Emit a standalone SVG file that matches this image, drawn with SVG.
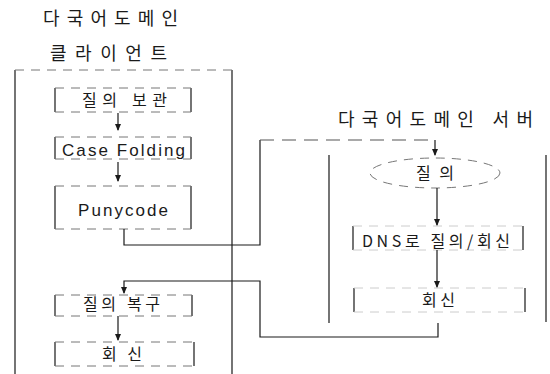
<svg xmlns="http://www.w3.org/2000/svg" width="550" height="374" viewBox="0 0 550 374">
<style>
.side{stroke:#1a1a1a;stroke-width:1.2;fill:none}
.dash{stroke:#777;stroke-width:1;stroke-dasharray:9 7;fill:none}
.conn{stroke:#1a1a1a;stroke-width:1.2;fill:none}
.connd{stroke:#555;stroke-width:1.1;fill:none;stroke-dasharray:14 8}
.k{font-family:"Noto Sans CJK KR","Liberation Sans",sans-serif;font-size:16px;fill:#1a1a1a}
.t{font-size:18px}
.e{font-family:"Liberation Sans",Arial,sans-serif;font-size:17px;fill:#1a1a1a}
</style>
<defs>
<marker id="ah" viewBox="0 0 8 8" refX="7" refY="4" markerWidth="7" markerHeight="7" markerUnits="userSpaceOnUse" orient="auto">
<path d="M0,0.5 L8,4 L0,7.5 Z" fill="#1a1a1a"/>
</marker>
</defs>
<rect width="550" height="374" fill="#fff"/>

<g id="client-title">
<text class="k t" x="43" y="25" textLength="135" lengthAdjust="spacing">다국어도메인</text>
<text class="k t" x="50" y="60" textLength="117" lengthAdjust="spacing">클라이언트</text>
</g>

<g id="client">
<path class="side" d="M15 70 V374 M232 70 V374"/>
<path class="dash" d="M15 70 H232"/>
</g>

<g id="query-store">
<path class="side" d="M55 88 V112 M191 88 V112"/>
<path class="dash" d="M55 88 H191 M55 112 H191"/>
<text class="k" x="82" y="106" textLength="85" lengthAdjust="spacing">질의 보관</text>
</g>

<g id="case-folding">
<path class="side" d="M55 137 V159 M191 137 V159"/>
<path class="dash" d="M55 137 H191 M55 159 H191"/>
<text class="e" x="62" y="155.5" textLength="123" lengthAdjust="spacing">Case Folding</text>
</g>

<g id="punycode">
<path class="side" d="M55 186 V229 M191 186 V229"/>
<path class="dash" d="M55 186 H191 M55 229 H191"/>
<text class="e" x="78" y="215.5" textLength="90" lengthAdjust="spacing">Punycode</text>
</g>

<g id="query-restore">
<path class="side" d="M55 295 V316 M192 295 V316"/>
<path class="dash" d="M55 295 H192 M55 316 H192"/>
<text class="k" x="83" y="310" textLength="77" lengthAdjust="spacing">질의 복구</text>
</g>

<g id="client-reply">
<path class="side" d="M55 342 V366 M194 342 V366"/>
<path class="dash" d="M55 366 H194 M55 342 H194"/>
<text class="k" x="102" y="360" textLength="40" lengthAdjust="spacing">회신</text>
</g>

<g id="server-title">
<text class="k t" x="338" y="125.5" textLength="195" lengthAdjust="spacing">다국어도메인 서버</text>
</g>

<g id="server">
<path class="side" d="M329 155 V323 M546 155 V322"/>
</g>

<g id="query">
<ellipse class="dash" cx="435" cy="173" rx="65" ry="15"/>
<text class="k" x="416" y="179" textLength="38" lengthAdjust="spacing">질의</text>
</g>

<g id="dns">
<path class="side" d="M353 226 V250 M523 226 V250"/>
<path class="dash" d="M353 226 H523 M353 250 H523" style="stroke:#ccc"/>
<text class="k" x="362" y="247" textLength="148" lengthAdjust="spacing">DNS로 질의/회신</text>
</g>

<g id="server-reply">
<path class="side" d="M354 288 V312 M525 288 V312"/>
<path class="dash" d="M354 288 H525 M354 312 H525" style="stroke:#ccc"/>
<text class="k" x="422" y="306" textLength="33" lengthAdjust="spacing">회신</text>
</g>

<g id="connectors">
<path class="conn" d="M118 113 V130" marker-end="url(#ah)"/>
<path class="conn" d="M118 162 V181" marker-end="url(#ah)"/>
<path class="conn" d="M124 229 V245 H260 V140"/>
<path class="connd" d="M260 140 H435"/>
<path class="conn" d="M435 140 V155" marker-end="url(#ah)"/>
<path class="conn" d="M437 188 V225" marker-end="url(#ah)"/>
<path class="conn" d="M437 250 V287" marker-end="url(#ah)"/>
<path class="conn" d="M438 323 V337 H260 V281 H124 V293" marker-end="url(#ah)"/>
<path class="conn" d="M118 316 V340" marker-end="url(#ah)"/>
</g>
</svg>
